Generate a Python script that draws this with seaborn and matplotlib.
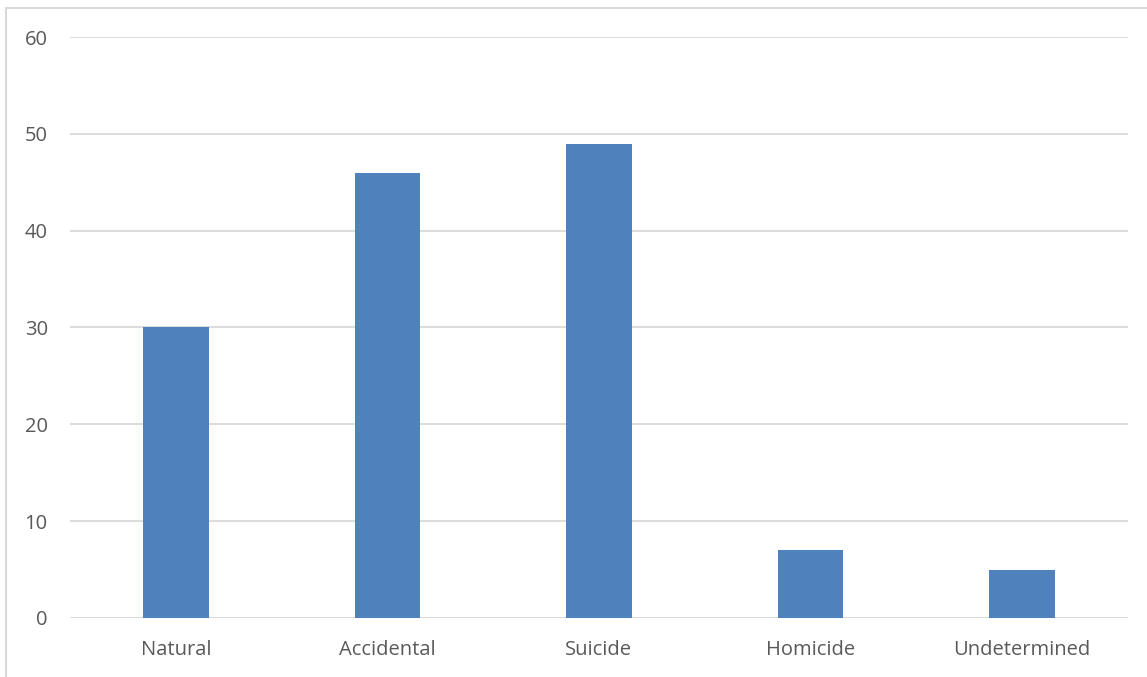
import pandas as pd
import matplotlib.pyplot as plt
import matplotlib.patches as mpatches
import seaborn as sns

# Data
categories = ['Natural', 'Accidental', 'Suicide', 'Homicide', 'Undetermined']
counts = [30, 46, 49, 7, 5]
y_ticks = [0, 10, 20, 30, 40, 50, 60]

df = pd.DataFrame({'manner': categories, 'count': counts})

sns.set_style("white")
plt.rcParams['font.family'] = ['Open Sans', 'DejaVu Sans']

fig = plt.figure(figsize=(11.47, 6.77), dpi=100)
ax = fig.add_axes([0.061, 0.0872, 0.9223, 0.8581])

sns.barplot(data=df, x='manner', y='count', color='#4f81bd', saturation=1,
            width=0.31, linewidth=0, ax=ax, zorder=3)

ax.set_ylim(0, 60)
ax.set_xlim(-0.5, len(categories) - 0.5)
ax.set_yticks(y_ticks)
ax.yaxis.grid(True, color='#d9d9d9', linewidth=1.3, zorder=0)
ax.set_axisbelow(True)
for s in ['top', 'right', 'left', 'bottom']:
    ax.spines[s].set_visible(False)
ax.axhline(0, color='#d9d9d9', linewidth=1.3, zorder=1)
ax.tick_params(axis='both', length=0, labelsize=14.5, labelcolor='#595959')
ax.tick_params(axis='y', pad=16)
ax.tick_params(axis='x', pad=16)
ax.set_xlabel('')
ax.set_ylabel('')

# chart-area border (only left and top visible in the crop)
border = mpatches.Rectangle((6 / 1147, -0.2), 1.2, 1.2 - 8 / 677,
                            transform=fig.transFigure, fill=False,
                            edgecolor='#d9d9d9', linewidth=1.5)
fig.patches.append(border)

plt.savefig('out.png', dpi=100)
